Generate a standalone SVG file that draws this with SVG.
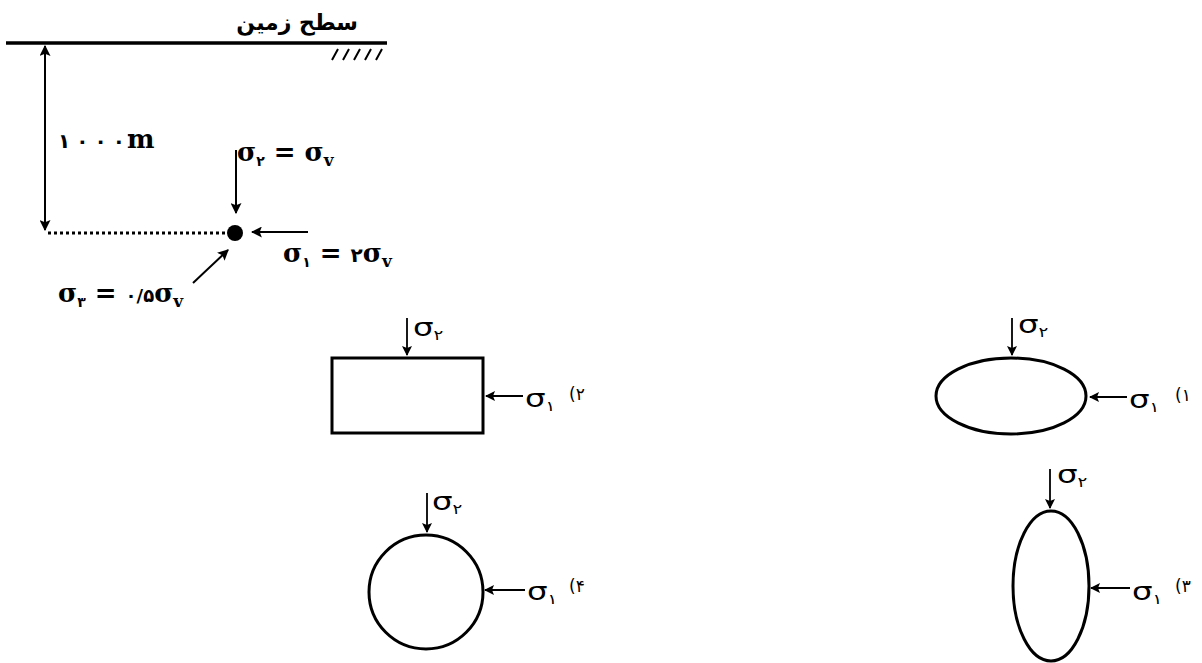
<svg xmlns="http://www.w3.org/2000/svg" width="1202" height="663" viewBox="0 0 1202 663">
<defs>
<marker id="ah" viewBox="0 0 10 10" refX="9" refY="5" markerWidth="11" markerHeight="11" markerUnits="userSpaceOnUse" orient="auto-start-reverse"><path d="M0,0 L10,5 L0,10 L2,5 z" fill="#000"/></marker>
<marker id="ahs" viewBox="0 0 10 10" refX="9" refY="5" markerWidth="10" markerHeight="10" markerUnits="userSpaceOnUse" orient="auto-start-reverse"><path d="M0,0 L10,5 L0,10 L2,5 z" fill="#000"/></marker>
</defs>
<style>
.ln{stroke:#000;stroke-width:2;fill:none}
.th{stroke:#000;stroke-width:1.8;fill:none}
.sh{stroke:#000;stroke-width:3;fill:#fff}
.sg{font-family:"DejaVu Serif","Liberation Serif",serif;font-weight:bold;font-size:26px;fill:#000}
.fa{font-family:"DejaVu Sans",sans-serif;font-weight:bold;fill:#000}
.sm{font-family:"DejaVu Sans","Liberation Sans",sans-serif;font-size:25px;fill:#000;direction:ltr;unicode-bidi:bidi-override}
.sub{font-family:"DejaVu Sans",sans-serif;font-size:14px}
.num{font-family:"DejaVu Sans",sans-serif;font-size:17px;fill:#000;direction:ltr;unicode-bidi:bidi-override}
.lt{direction:ltr;unicode-bidi:bidi-override}
</style>
<rect width="1202" height="663" fill="#fff"/>
<g id="ground">
<line x1="6" y1="43" x2="387" y2="43" stroke="#000" stroke-width="3.5"/>
<path stroke="#000" stroke-width="2" fill="none" d="M332,60 L338,49 M343,60 L349,49 M354,60 L360,49 M365,60 L371,49 M376,60 L382,49"/>
<text class="fa" x="358" y="30" font-size="22" text-anchor="end">سطح زمین</text>
</g>
<g id="depth">
<line class="ln" x1="45" y1="46" x2="45" y2="230" marker-start="url(#ah)" marker-end="url(#ah)"/>
<text class="fa lt" x="58" y="148" font-weight="normal" font-size="20">۱<tspan dx="6">۰</tspan><tspan dx="6">۰</tspan><tspan dx="6">۰</tspan></text>
<text class="sg" x="127" y="148">m</text>
<line x1="48" y1="233" x2="228" y2="233" stroke="#000" stroke-width="3" stroke-dasharray="3,3"/>
</g>
<g id="point">
<circle cx="235" cy="233" r="8" fill="#000"/>
<line class="ln" x1="236" y1="150" x2="236" y2="213" marker-end="url(#ah)"/>
<text class="sg lt" x="237" y="161">σ<tspan class="sub" dy="5">۲</tspan><tspan dy="-5"> = σ</tspan><tspan font-size="17" dy="5">v</tspan></text>
<line class="ln" x1="308" y1="232" x2="252" y2="232" marker-end="url(#ah)"/>
<text class="sg lt" x="283" y="262">σ<tspan class="sub" dy="5">۱</tspan><tspan dy="-5"> = </tspan><tspan class="fa" font-size="20">۲</tspan><tspan>σ</tspan><tspan font-size="17" dy="5">v</tspan></text>
<line class="ln" x1="193" y1="283" x2="228" y2="250" marker-end="url(#ah)"/>
<text class="sg lt" x="58" y="302">σ<tspan class="sub" dy="5">۳</tspan><tspan dy="-5"> = </tspan><tspan class="fa" font-size="18" font-weight="normal">۰/۵</tspan><tspan>σ</tspan><tspan font-size="17" dy="5">v</tspan></text>
</g>
<g id="opt2">
<rect class="sh" x="332" y="358" width="151" height="75"/>
<line class="th" x1="407" y1="318" x2="407" y2="355" marker-end="url(#ahs)"/>
<text class="sm" transform="translate(413,336) scale(1.3,1)">σ<tspan class="sub" dy="4">۲</tspan></text>
<line class="th" x1="523" y1="396" x2="486" y2="396" marker-end="url(#ahs)"/>
<text class="sm" transform="translate(525,407) scale(1.3,1)">σ<tspan class="sub" dy="4">۱</tspan></text>
<text class="num" x="569" y="400">(۲</text>
</g>
<g id="opt1">
<ellipse class="sh" cx="1011" cy="396" rx="75" ry="38"/>
<line class="th" x1="1012" y1="318" x2="1012" y2="355" marker-end="url(#ahs)"/>
<text class="sm" transform="translate(1018,333) scale(1.3,1)">σ<tspan class="sub" dy="4">۲</tspan></text>
<line class="th" x1="1127" y1="397" x2="1090" y2="397" marker-end="url(#ahs)"/>
<text class="sm" transform="translate(1129,408) scale(1.3,1)">σ<tspan class="sub" dy="4">۱</tspan></text>
<text class="num" x="1175" y="401">(۱</text>
</g>
<g id="opt4">
<circle class="sh" cx="426" cy="592" r="57"/>
<line class="th" x1="427" y1="493" x2="427" y2="532" marker-end="url(#ahs)"/>
<text class="sm" transform="translate(432,510) scale(1.3,1)">σ<tspan class="sub" dy="4">۲</tspan></text>
<line class="th" x1="525" y1="590" x2="485" y2="590" marker-end="url(#ahs)"/>
<text class="sm" transform="translate(527,600) scale(1.3,1)">σ<tspan class="sub" dy="4">۱</tspan></text>
<text class="num" x="569" y="592">(۴</text>
</g>
<g id="opt3">
<ellipse class="sh" cx="1051" cy="586" rx="38" ry="75"/>
<line class="th" x1="1050" y1="469" x2="1050" y2="508" marker-end="url(#ahs)"/>
<text class="sm" transform="translate(1057,483) scale(1.3,1)">σ<tspan class="sub" dy="4">۲</tspan></text>
<line class="th" x1="1130" y1="588" x2="1091" y2="588" marker-end="url(#ahs)"/>
<text class="sm" transform="translate(1132,600) scale(1.3,1)">σ<tspan class="sub" dy="4">۱</tspan></text>
<text class="num" x="1175" y="592">(۳</text>
</g>
</svg>
